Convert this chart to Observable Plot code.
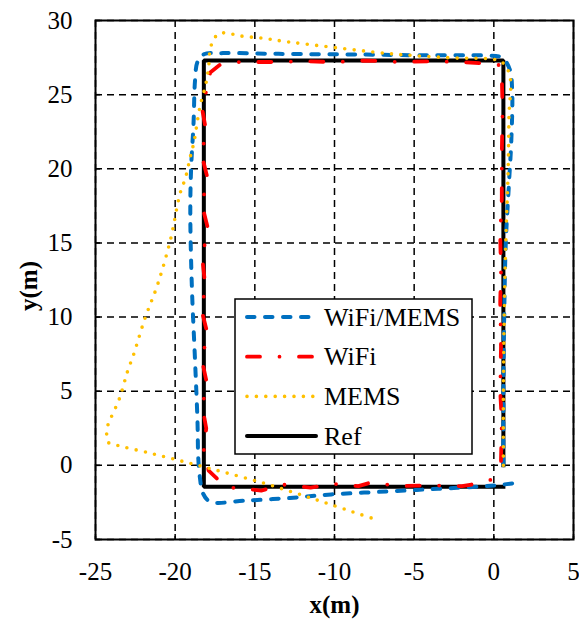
<!DOCTYPE html>
<html>
<head>
<meta charset="utf-8">
<script src="https://cdn.jsdelivr.net/npm/d3@7"></script>
<script src="https://cdn.jsdelivr.net/npm/@observablehq/plot@0.6"></script>
<style>
  html, body { margin: 0; padding: 0; background: #fff; }
  #chart { width: 579px; height: 623px; }
</style>
</head>
<body>
<div id="chart"></div>
<script>
// Axis ticks
const xTicks = [-25, -20, -15, -10, -5, 0, 5];
const yTicks = [-5, 0, 5, 10, 15, 20, 25, 30];

// Reference walking route (m)
const refX = [0.6, 0.6, -18.2, -18.2, 0.6];
const refY = [0, 27.3, 27.3, -1.45, -1.45];

// WiFi/MEMS fused trajectory (m)
const fusedX = [0.6, 0.6, 0.65, 0.75, 0.95, 1.1, 1.15, 1.0, 0.5, -0.6, -4.0, -8.0, -13.5, -17.0, -18.2, -18.6, -18.75, -18.85, -19.0, -19.05, -18.95, -18.75, -18.6, -18.55, -18.45, -18.25, -17.8, -15.5, -12.8, -10.2, -6.7, -3.5, -0.2, 1.15];
const fusedY = [0, 5, 10, 15, 19, 22, 25.3, 26.7, 27.5, 27.64, 27.65, 27.7, 27.75, 27.8, 27.72, 27.2, 26, 23, 20, 17, 12, 7, 3, 0.5, -0.8, -1.9, -2.45, -2.37, -2.2, -1.96, -1.76, -1.58, -1.38, -1.22];

// WiFi-only trajectory (m)
const wifiX = [0.45, 0.5, 0.4, 0.45, 0.4, 0.45, 0.4, 0.5, 0.5, 0.55, 0.5, 0.3, -0.5, -2, -4, -6, -8, -10, -12, -14, -16, -17.2, -17.8, -18.0, -18.3, -18.05, -18.35, -18.0, -18.3, -17.95, -18.3, -18.1, -18.35, -18.0, -18.3, -18.0, -18.3, -18.05, -18.2, -17.9, -17.15, -16.5, -15.0, -14.6, -13.2, -11.5, -10.0, -8.5, -7.7, -6.0, -4.0, -2.0, -0.6, 0.2];
const wifiY = [0.3, 3, 5, 8, 11, 13, 15.5, 18, 21, 24, 26.2, 27.0, 27.1, 27.2, 27.25, 27.2, 27.3, 27.2, 27.25, 27.2, 27.2, 27.0, 26.5, 25.5, 24, 22.5, 21, 19.5, 17.5, 16, 14, 12, 10.5, 9, 7, 5.5, 4, 2.5, 1, -0.35, -1.13, -1.5, -1.65, -1.7, -1.3, -1.5, -1.25, -1.4, -1.15, -1.4, -1.35, -1.4, -1.15, -0.8];

// MEMS-only (dead reckoning) trajectory (m)
const memsX = [0.6, 0.6, 0.65, 0.75, 0.9, 0.95, 1.0, 0.5, -0.4, -2.2, -5.1, -6.9, -13.2, -14.4, -15.6, -16.1, -16.7, -17.3, -17.6, -17.8, -17.9, -18.1, -18.4, -18.6, -18.8, -19.05, -19.35, -19.7, -20.3, -21.1, -21.9, -22.6, -23.0, -23.5, -23.95, -24.2, -24.3, -24.2, -23.6, -21.4, -19.1, -16.95, -14.6, -12.45, -10.7, -8.8, -7.4];
const memsY = [0, 5, 10, 15, 20, 23.5, 26.3, 27.2, 27.42, 27.46, 27.64, 27.8, 28.6, 28.79, 28.92, 28.99, 29.15, 29.1, 28.65, 28.1, 26.85, 25.6, 24.4, 23.25, 21.9, 20.8, 19.4, 18.3, 15.2, 12.2, 9.9, 7.5, 6.3, 4.5, 3.4, 2.8, 2.1, 1.55, 1.34, 0.78, 0.15, -0.46, -1.15, -1.87, -2.48, -3.16, -3.65];

// Legend labels, in series order
const seriesNames = ["WiFi/MEMS", "WiFi", "MEMS", "Ref"];

const rows = (xs, ys) => xs.map((x, i) => ({x, y: ys[i]}));

const W = 579, H = 623;
const M = {top: 20, right: 6, bottom: 84, left: 95};
const innerW = W - M.left - M.right;
const innerH = H - M.top - M.bottom;
const FONT = "'Liberation Serif', 'Times New Roman', serif";

const styles = [
  {stroke: "#0070C0", strokeWidth: 4, strokeDasharray: "7.5,10.5", strokeLinecap: "round"},
  {stroke: "#FF0000", strokeWidth: 3.8, strokeDasharray: "13,19.5,0,19.5", strokeLinecap: "round"},
  {stroke: "#FFC000", strokeWidth: 3.6, strokeDasharray: "0,9.4", strokeLinecap: "round"},
  {stroke: "#000000", strokeWidth: 4, strokeLinecap: "square"}
];

const fmt = d => String(d);

const chart = Plot.plot({
  width: W,
  height: H,
  marginTop: M.top,
  marginRight: M.right,
  marginBottom: M.bottom,
  marginLeft: M.left,
  style: {fontFamily: FONT, fontSize: "25px", color: "#000", background: "#fff"},
  x: {domain: [-25, 5]},
  y: {domain: [-5, 30]},
  marks: [
    Plot.gridX(xTicks, {stroke: "#000", strokeOpacity: 1, strokeWidth: 1.5, strokeDasharray: "7,5"}),
    Plot.gridY(yTicks, {stroke: "#000", strokeOpacity: 1, strokeWidth: 1.5, strokeDasharray: "7,5"}),
    Plot.tickX(xTicks, {x: d => d, insetTop: innerH - 5, stroke: "#000", strokeWidth: 1.5}),
    Plot.tickY(yTicks, {y: d => d, insetRight: innerW - 5, stroke: "#000", strokeWidth: 1.5}),
    Plot.line(rows(refX, refY), {x: "x", y: "y", ...styles[3], strokeLinejoin: "miter"}),
    Plot.line(rows(fusedX, fusedY), {x: "x", y: "y", ...styles[0], strokeLinejoin: "round", curve: "catmull-rom"}),
    Plot.line(rows(wifiX, wifiY), {x: "x", y: "y", ...styles[1], strokeLinejoin: "round"}),
    Plot.line(rows(memsX, memsY), {x: "x", y: "y", ...styles[2], strokeLinejoin: "round", curve: "catmull-rom"}),
    Plot.frame({stroke: "#000", strokeWidth: 2}),
    Plot.axisX(xTicks, {tickSize: 0, tickPadding: 23, tickFormat: fmt, fontSize: 25, label: null}),
    Plot.axisY(yTicks, {tickSize: 0, tickPadding: 23, tickFormat: fmt, fontSize: 25, label: null}),
    Plot.text(["x(m)"], {frameAnchor: "bottom", lineAnchor: "middle", textAnchor: "middle", dy: 65, text: d => d, fontSize: 25, fontWeight: "bold"}),
    Plot.text(["y(m)"], {frameAnchor: "left", lineAnchor: "middle", textAnchor: "middle", dx: -67, dy: 6, text: d => d, fontSize: 25, fontWeight: "bold", rotate: -90})
  ]
});

document.getElementById("chart").appendChild(chart);

// Legend box inside the plot area
const svg = d3.select(chart);
const lg = svg.append("g").attr("class", "legend").attr("text-anchor", "start");
const box = {x: 235, y: 299, w: 237, h: 155};
lg.append("rect")
  .attr("x", box.x).attr("y", box.y)
  .attr("width", box.w).attr("height", box.h)
  .attr("fill", "#fff").attr("stroke", "#000").attr("stroke-width", 1.5);

seriesNames.forEach((name, i) => {
  const cy = box.y + 18 + i * 39.7;
  const s = styles[i];
  lg.append("line")
    .attr("x1", 247).attr("x2", 316)
    .attr("y1", cy).attr("y2", cy)
    .attr("stroke", s.stroke)
    .attr("stroke-width", s.strokeWidth)
    .attr("stroke-dasharray", s.strokeDasharray || null)
    .attr("stroke-linecap", i === 3 ? "round" : s.strokeLinecap);
  lg.append("text")
    .attr("x", 324).attr("y", cy)
    .attr("dy", "0.33em")
    .attr("text-anchor", "start")
    .attr("font-family", FONT)
    .attr("font-size", 26)
    .attr("fill", "#000")
    .text(name);
});
</script>
</body>
</html>
